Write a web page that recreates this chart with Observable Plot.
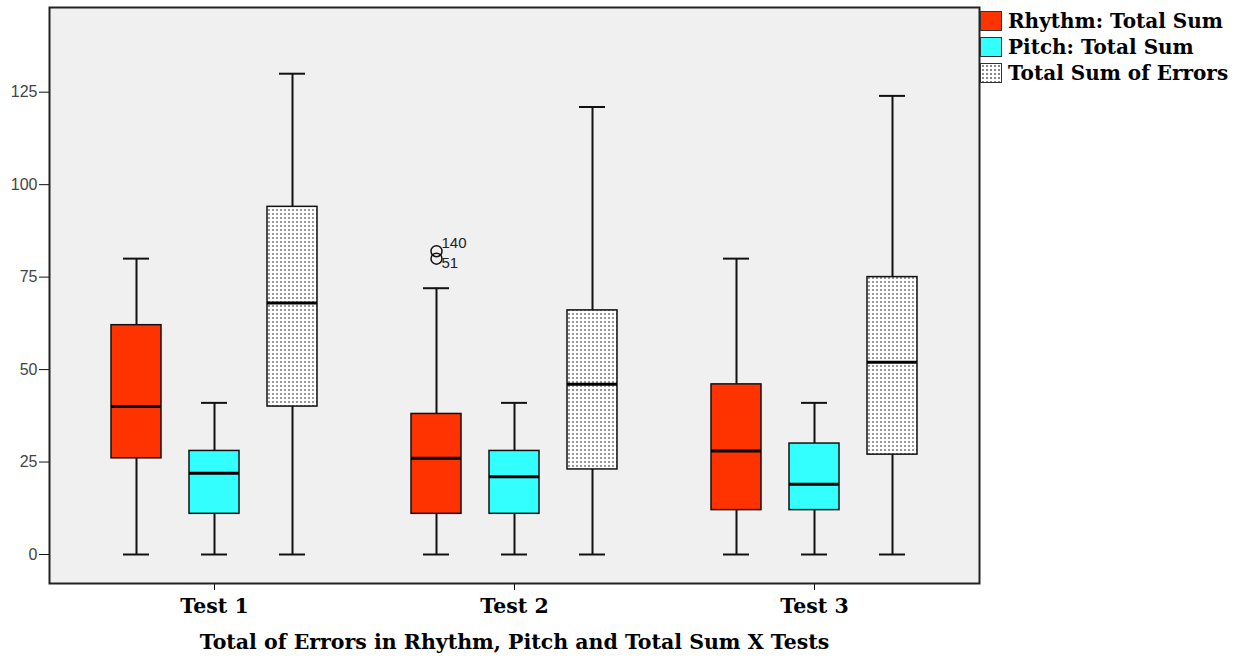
<!DOCTYPE html>
<html><head><meta charset="utf-8">
<script src="https://cdn.jsdelivr.net/npm/d3@7"></script>
<script src="https://cdn.jsdelivr.net/npm/@observablehq/plot@0.6"></script>
<style>
body{margin:0;background:#fff;}
#wrap{position:relative;width:1240px;height:657px;}
#legend{position:absolute;left:980px;top:8px;font-family:"DejaVu Serif",serif;font-weight:bold;font-size:20px;color:#000;}
.row{display:flex;align-items:center;height:26px;white-space:nowrap;}
.sw{width:22px;height:20px;border:1px solid #333;box-sizing:border-box;margin-right:6px;flex:none;}
</style></head><body><div id="wrap"><div id="legend"></div></div>
<script>
const tests = ["Test 1", "Test 2", "Test 3"];
const series = ["Rhythm: Total Sum", "Pitch: Total Sum", "Total Sum of Errors"];
const seriesColors = ["#ff3300", "#33ffff", "url(#dots)"];
// rows = tests, columns = series
const minVals = [[0, 0, 0], [0, 0, 0], [0, 0, 0]];
const q1Vals  = [[26, 11, 40], [11, 11, 23], [12, 12, 27]];
const medVals = [[40, 22, 68], [26, 21, 46], [28, 19, 52]];
const q3Vals  = [[62, 28, 94], [38, 28, 66], [46, 30, 75]];
const maxVals = [[80, 41, 130], [72, 41, 121], [80, 41, 124]];
const outlierTests = ["Test 2", "Test 2"];
const outlierSeries = ["Rhythm: Total Sum", "Rhythm: Total Sum"];
const outlierValues = [82, 80];
const outlierLabels = ["140", "51"];
const yTicks = [0, 25, 50, 75, 100, 125];
const xTitle = "Total of Errors in Rhythm, Pitch and Total Sum X Tests";

const rows = [];
tests.forEach((t, i) => series.forEach((s, j) => rows.push({
  test: t, series: s, min: minVals[i][j], q1: q1Vals[i][j], med: medVals[i][j], q3: q3Vals[i][j], max: maxVals[i][j]
})));
const outliers = outlierValues.map((v, k) => ({test: outlierTests[k], series: outlierSeries[k], value: v, label: outlierLabels[k]}));

const ink = "#111";
const sans = "Liberation Sans, Arial, sans-serif";
const svg = Plot.plot({
  width: 1240, height: 657,
  marginLeft: 48, marginRight: 261, marginTop: 7, marginBottom: 74,
  fx: {domain: tests, paddingInner: 0.1, paddingOuter: 0.1, label: null, axis: null},
  x: {domain: series, paddingInner: 0.354, paddingOuter: 0.386, axis: null},
  y: {domain: [-7.84, 147.9], axis: null},
  color: {domain: series, range: seriesColors},
  marks: [
    Plot.frame({facet: "super", fill: "#f0f0f0", stroke: "none", insetLeft: -30, insetRight: -30}),
    Plot.ruleX(rows, {fx: "test", x: "series", y1: "min", y2: "q1", stroke: ink, strokeWidth: 2}),
    Plot.ruleX(rows, {fx: "test", x: "series", y1: "q3", y2: "max", stroke: ink, strokeWidth: 2}),
    Plot.tickY(rows, {fx: "test", x: "series", y: "min", insetLeft: 12, insetRight: 12, stroke: ink, strokeWidth: 2}),
    Plot.tickY(rows, {fx: "test", x: "series", y: "max", insetLeft: 12, insetRight: 12, stroke: ink, strokeWidth: 2}),
    Plot.barY(rows, {fx: "test", x: "series", y1: "q1", y2: "q3", fill: "series", stroke: ink, strokeWidth: 1.5}),
    Plot.tickY(rows, {fx: "test", x: "series", y: "med", stroke: "#000", strokeWidth: 3}),
    Plot.dot(outliers, {fx: "test", x: "series", y: "value", r: 5.5, stroke: ink, strokeWidth: 1.5, fill: "none"}),
    Plot.text(outliers.slice(0, 1), {fx: "test", x: "series", y: "value", text: "label", textAnchor: "start", lineAnchor: "bottom", dx: 5, dy: -3, fontSize: 15, fontFamily: sans, fill: "#222"}),
    Plot.text(outliers.slice(1), {fx: "test", x: "series", y: "value", text: "label", textAnchor: "start", lineAnchor: "top", dx: 5, dy: -1, fontSize: 15, fontFamily: sans, fill: "#222"}),
    Plot.axisY({ticks: yTicks, tickSize: 10, tickPadding: 2, dx: -30, fontSize: 16, fontFamily: sans, color: "#444", stroke: ink, tickFormat: d => d, label: null}),
    Plot.axisFx({anchor: "bottom", tickSize: 7, tickPadding: 8, fontSize: 20.5, fontFamily: "DejaVu Serif, serif", fontWeight: "bold", color: "#000", label: xTitle, labelAnchor: "center", labelOffset: 65}),
    Plot.frame({facet: "super", stroke: "#222", strokeWidth: 2, insetLeft: -30, insetRight: -30})
  ]
});

const ns = "http://www.w3.org/2000/svg";
const defs = document.createElementNS(ns, "defs");
defs.innerHTML = '<pattern id="dots" width="4" height="4" patternUnits="userSpaceOnUse"><rect width="4" height="4" fill="#ffffff"/><rect x="1" y="1" width="2" height="2" fill="#999"/></pattern>';
svg.insertBefore(defs, svg.firstChild);
document.getElementById("wrap").prepend(svg);

const legend = document.getElementById("legend");
series.forEach((s, j) => {
  const row = document.createElement("div");
  row.className = "row";
  const sw = document.createElement("div");
  sw.className = "sw";
  if (seriesColors[j].startsWith("url")) {
    sw.style.background = "#fff radial-gradient(#888 40%, transparent 45%) 0 0/4px 4px";
  } else sw.style.background = seriesColors[j];
  const lab = document.createElement("span");
  lab.textContent = s;
  row.append(sw, lab);
  legend.append(row);
});
</script></body></html>
